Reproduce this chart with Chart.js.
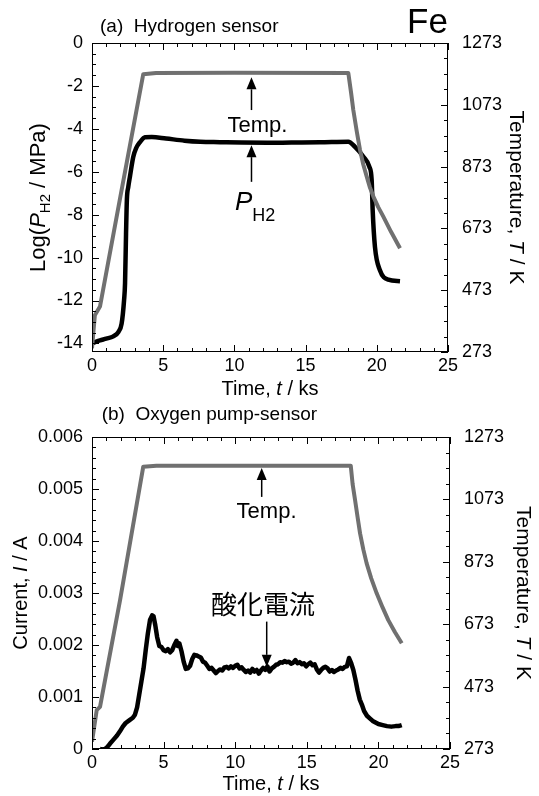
<!DOCTYPE html>
<html>
<head>
<meta charset="utf-8">
<script src="https://cdn.jsdelivr.net/npm/chart.js@4.4.0/dist/chart.umd.min.js"></script>
<style>
  html, body { margin: 0; padding: 0; background: #fff; }
  .box { position: absolute; left: 0; width: 539px; }
  #boxA { top: 0; height: 400px; }
  #boxB { top: 400px; height: 396px; }
</style>
</head>
<body>
<div class="box" id="boxA"><canvas id="chartA"></canvas></div>
<div class="box" id="boxB"><canvas id="chartB"></canvas></div>
<script>
// tick labels
const xTicks = [0, 5, 10, 15, 20, 25];
const logTicks = [-14, -12, -10, -8, -6, -4, -2, 0];
const currentTicks = [0, 0.001, 0.002, 0.003, 0.004, 0.005, 0.006];
const tempTicks = [273, 473, 673, 873, 1073, 1273];

// (a) hydrogen sensor: log P_H2
const h2Time = [0, 0.3, 0.56, 1.0, 1.5, 1.85, 2.08, 2.25, 2.32, 2.39, 2.45, 2.55, 2.67, 2.9, 3.1, 3.37, 3.72,
  4.2, 5.2, 6.5, 7.6, 9, 10.5, 12.3, 14, 16, 18.0, 18.47, 19.06, 19.48, 19.64, 19.71, 19.87, 20.22, 20.81, 21.63];
const h2LogP = [-14.0, -13.92, -13.86, -13.78, -13.67, -13.47, -13.08, -12.0, -11.2, -8.9, -7.3, -6.7, -6.2, -5.3, -4.9, -4.62, -4.39,
  -4.38, -4.45, -4.55, -4.6, -4.62, -4.64, -4.65, -4.64, -4.63, -4.6, -4.84, -5.3, -5.77, -6.39, -7.79, -9.5, -10.59, -11.03, -11.1];

// (a) temperature
const h2TempTime = [0, 0.2, 0.56, 1.97, 3.6, 4.5, 10, 18.0, 18.2, 18.35, 18.6, 18.82, 19.05, 19.29, 19.5, 19.76, 20.1, 20.46, 21.0, 21.63];
const h2Temp = [285, 392, 420, 770, 1172, 1176, 1177, 1176, 1110, 1056, 985, 927, 880, 841, 808, 776, 742, 711, 662, 609];

// (b) oxygen pump-sensor: current
const o2Time = [0.55, 0.7, 0.9, 1.05, 1.25, 1.5, 1.75, 1.95, 2.15, 2.35, 2.6, 2.85, 3.0, 3.15, 3.3, 3.45, 3.6, 3.75, 3.9,
  4.05, 4.2, 4.3, 4.42, 4.55, 4.7, 4.85, 5.0, 5.15, 5.3, 5.45, 5.6, 5.75, 5.9, 6.0, 6.1, 6.25, 6.4, 6.55, 6.7, 6.85,
  7.0, 7.15, 7.3, 7.45, 7.6, 7.75, 7.9, 8.05, 8.2, 8.35, 8.5, 8.65, 8.8, 8.95, 9.1, 9.25, 9.4, 9.55, 9.7, 9.85,
  10.0, 10.15, 10.3, 10.45, 10.6, 10.75, 10.9, 11.05, 11.2, 11.35, 11.5, 11.65, 11.8, 11.95, 12.1, 12.25, 12.4, 12.55, 12.7, 12.85,
  13.0, 13.15, 13.3, 13.45, 13.6, 13.75, 13.9, 14.05, 14.2, 14.35, 14.5, 14.65, 14.8, 14.95, 15.1, 15.25, 15.4, 15.55, 15.7, 15.85,
  16.0, 16.15, 16.3, 16.45, 16.6, 16.75, 16.9, 17.05, 17.2, 17.35, 17.5, 17.65, 17.8, 17.95, 18.1, 18.25, 18.4, 18.55, 18.7, 18.85,
  19.0, 19.2, 19.4, 19.6, 19.8, 20.0, 20.3, 20.6, 20.9, 21.2, 21.4, 21.63];
const o2Current = [0, -0.00001, 0, 0.00003, 0.0001, 0.00018, 0.00026, 0.00034, 0.00043, 0.0005, 0.00055, 0.0006, 0.00066, 0.0008, 0.00105, 0.0013, 0.00155, 0.0019, 0.00222,
  0.00248, 0.00257, 0.00255, 0.00238, 0.00215, 0.00198, 0.00196, 0.0019, 0.00188, 0.00192, 0.00186, 0.0019, 0.002, 0.00208, 0.00198, 0.00203, 0.00188, 0.00168, 0.00154, 0.00155, 0.0016,
  0.00173, 0.00181, 0.0018, 0.00178, 0.00176, 0.00168, 0.00166, 0.0016, 0.00154, 0.00156, 0.00151, 0.00146, 0.0015, 0.00153, 0.00151, 0.00157, 0.00158, 0.00155, 0.00159, 0.00156,
  0.0016, 0.00162, 0.00155, 0.00157, 0.00152, 0.00148, 0.00151, 0.00147, 0.00154, 0.00149, 0.00152, 0.00145, 0.00151, 0.00156, 0.00152, 0.00159, 0.00149, 0.00155, 0.00158, 0.00162,
  0.00163, 0.00167, 0.00166, 0.00169, 0.00167, 0.00168, 0.00164, 0.00166, 0.00171, 0.00165, 0.00167, 0.00163, 0.00165, 0.00159, 0.00163, 0.00166, 0.00161, 0.00163, 0.00153, 0.00147,
  0.00152, 0.00156, 0.00158, 0.00155, 0.00149, 0.00152, 0.00148, 0.00151, 0.00153, 0.00156, 0.00154, 0.00158, 0.00159, 0.00175, 0.00165, 0.00152, 0.00133, 0.00112, 0.00095, 0.00085,
  0.00073, 0.00064, 0.00059, 0.00054, 0.00051, 0.00048, 0.00046, 0.00044, 0.00043, 0.00044, 0.00044, 0.00046];

// (b) temperature
const o2TempTime = [0, 0.33, 0.56, 1.96, 3.58, 4.5, 10, 18.07, 18.2, 18.37, 18.55, 18.72, 18.95, 19.18, 19.5, 19.88, 20.3, 20.69, 21.15, 21.63];
const o2Temp = [296, 398, 408, 750, 1178, 1181, 1181, 1181, 1122, 1071, 1015, 964, 912, 868, 820, 772, 726, 686, 648, 612];

const FONT = '"Liberation Sans", Arial, sans-serif';
const GRAY = "#707070";

function pts(xs, ys) {
  return xs.map((x, i) => ({ x: x, y: ys[i] }));
}

function fixTicks(values) {
  return (axis) => {
    axis.ticks = values.map((v) => ({ value: v }));
  };
}

function writeRuns(ctx, parts, x, y, align) {
  let w = 0;
  parts.forEach((p) => {
    ctx.font = p.font;
    w += ctx.measureText(p.text).width;
  });
  let cx = align === "center" ? x - w / 2 : x;
  parts.forEach((p) => {
    ctx.font = p.font;
    ctx.fillText(p.text, cx, y + (p.dy || 0));
    cx += ctx.measureText(p.text).width;
  });
}

function arrow(ctx, px, yTail, yTip) {
  const dir = yTip < yTail ? 1 : -1;
  const hl = 12, hw = 5;
  ctx.save();
  ctx.strokeStyle = "#000";
  ctx.fillStyle = "#000";
  ctx.lineWidth = 1.5;
  ctx.beginPath();
  ctx.moveTo(px, yTail);
  ctx.lineTo(px, yTip + dir * hl);
  ctx.stroke();
  ctx.beginPath();
  ctx.moveTo(px, yTip);
  ctx.lineTo(px - hw, yTip + dir * hl);
  ctx.lineTo(px + hw, yTip + dir * hl);
  ctx.closePath();
  ctx.fill();
  ctx.restore();
}

// frame + inward tick marks on all four sides
function frameAndTicks(chart, left, right) {
  const ctx = chart.ctx, ca = chart.chartArea;
  const x = chart.scales.x, yl = chart.scales.y, yr = chart.scales.y1;
  ctx.save();
  ctx.strokeStyle = "#000";
  ctx.lineWidth = 1;
  ctx.strokeRect(Math.round(ca.left) + 0.5, Math.round(ca.top) + 0.5, Math.round(ca.right - ca.left) - 1, Math.round(ca.bottom - ca.top) - 1);
  ctx.beginPath();
  for (let i = 0; i <= 25; i++) {
    const px = Math.round(x.getPixelForValue(i)) + 0.5;
    const len = i % 5 === 0 ? 7 : 4;
    ctx.moveTo(px, ca.bottom);
    ctx.lineTo(px, ca.bottom - len);
    ctx.moveTo(px, ca.top);
    ctx.lineTo(px, ca.top + len);
  }
  for (let i = 0; i <= left.count; i++) {
    const py = Math.round(yl.getPixelForValue(left.from + i * left.step)) + 0.5;
    const len = i % left.major === 0 ? 7 : 4;
    ctx.moveTo(ca.left, py);
    ctx.lineTo(ca.left + len, py);
  }
  for (let i = 0; i <= right.count; i++) {
    const py = Math.round(yr.getPixelForValue(right.from + i * right.step)) + 0.5;
    const len = i % right.major === 0 ? 7 : 4;
    ctx.moveTo(ca.right, py);
    ctx.lineTo(ca.right - len, py);
  }
  ctx.stroke();
  ctx.restore();
}

function axisTitles(chart, xBase, leftX, leftRuns, rightX) {
  const ctx = chart.ctx, ca = chart.chartArea;
  const cy = (ca.top + ca.bottom) / 2;
  ctx.save();
  ctx.fillStyle = "#000";
  ctx.textBaseline = "alphabetic";
  writeRuns(ctx, [
    { text: "Time, ", font: "20px " + FONT },
    { text: "t", font: "italic 20px " + FONT },
    { text: " / ks", font: "20px " + FONT },
  ], (ca.left + ca.right) / 2, xBase, "center");

  ctx.save();
  ctx.translate(leftX, cy);
  ctx.rotate(-Math.PI / 2);
  writeRuns(ctx, leftRuns, 0, 0, "center");
  ctx.restore();

  ctx.save();
  ctx.translate(rightX, cy);
  ctx.rotate(Math.PI / 2);
  writeRuns(ctx, [
    { text: "Temperature, ", font: "21px " + FONT },
    { text: "T", font: "italic 21px " + FONT },
    { text: " / K", font: "21px " + FONT },
  ], 0, 0, "center");
  ctx.restore();
  ctx.restore();
}

const topDecor = {
  id: "topDecor",
  afterDraw(chart) {
    const ctx = chart.ctx;
    const x = chart.scales.x, yl = chart.scales.y, yr = chart.scales.y1;
    frameAndTicks(chart, { from: -14, step: 0.5, count: 28, major: 4 }, { from: 273, step: 50, count: 20, major: 4 });
    axisTitles(chart, 395, 45, [
      { text: "Log(", font: "22px " + FONT },
      { text: "P", font: "italic 22px " + FONT },
      { text: "H2", font: "15px " + FONT, dy: 5 },
      { text: " / MPa)", font: "22px " + FONT },
    ], 510);

    ctx.save();
    ctx.fillStyle = "#000";
    writeRuns(ctx, [{ text: "(a)  Hydrogen sensor", font: "19px " + FONT }], 100, 31.7, "left");
    writeRuns(ctx, [{ text: "Fe", font: "35px " + FONT }], 407, 33, "left");

    // Temp. label and arrow (right axis)
    arrow(ctx, x.getPixelForValue(11.2), yr.getPixelForValue(1056), yr.getPixelForValue(1162));
    writeRuns(ctx, [{ text: "Temp.", font: "22px " + FONT }], x.getPixelForValue(11.62), yr.getPixelForValue(986), "center");

    // P_H2 label and arrow (left axis)
    arrow(ctx, x.getPixelForValue(11.2), yl.getPixelForValue(-6.47), yl.getPixelForValue(-4.76));
    writeRuns(ctx, [
      { text: "P", font: "italic 26px " + FONT },
      { text: "H2", font: "18px " + FONT, dy: 10.7 },
    ], x.getPixelForValue(10.04), yl.getPixelForValue(-7.79), "left");
    ctx.restore();
  },
};

const bottomDecor = {
  id: "bottomDecor",
  afterDraw(chart) {
    const ctx = chart.ctx;
    const x = chart.scales.x, yl = chart.scales.y, yr = chart.scales.y1;
    frameAndTicks(chart, { from: 0, step: 0.0002, count: 30, major: 5 }, { from: 273, step: 50, count: 20, major: 4 });
    axisTitles(chart, 390, 27, [
      { text: "Current, ", font: "20px " + FONT },
      { text: "I", font: "italic 20px " + FONT },
      { text: " / A", font: "20px " + FONT },
    ], 517);

    ctx.save();
    ctx.fillStyle = "#000";
    writeRuns(ctx, [{ text: "(b)  Oxygen pump-sensor", font: "19px " + FONT }], 101.7, 20, "left");

    arrow(ctx, x.getPixelForValue(11.85), yr.getPixelForValue(1081), yr.getPixelForValue(1174));
    writeRuns(ctx, [{ text: "Temp.", font: "22px " + FONT }], x.getPixelForValue(12.19), yr.getPixelForValue(1013), "center");

    ctx.textBaseline = "middle";
    writeRuns(ctx, [{ text: "酸化電流", font: '26px "Noto Sans CJK JP", sans-serif' }], x.getPixelForValue(11.94), yl.getPixelForValue(0.00279), "center");
    ctx.textBaseline = "alphabetic";
    arrow(ctx, x.getPixelForValue(12.2), yl.getPixelForValue(0.00245), yl.getPixelForValue(0.00158));
    ctx.restore();
  },
};

function makeOptions(leftMin, leftMax, leftTicks, leftFmt, rightWidth, xHeight, topPad) {
  const tickFont = { family: FONT, size: 18 };
  return {
    responsive: true,
    maintainAspectRatio: false,
    animation: false,
    devicePixelRatio: 1,
    layout: { padding: { top: topPad, bottom: 0, left: 0, right: 0 } },
    plugins: { legend: { display: false }, tooltip: { enabled: false }, title: { display: false } },
    elements: { point: { radius: 0 } },
    scales: {
      x: {
        type: "linear",
        min: 0,
        max: 25,
        afterBuildTicks: fixTicks(xTicks),
        afterFit: (s) => { s.height = xHeight; },
        ticks: { font: tickFont, color: "#000", padding: 3, maxRotation: 0, autoSkip: false, callback: (v) => String(v) },
        grid: { display: false, drawTicks: false },
        border: { display: false },
      },
      y: {
        position: "left",
        min: leftMin,
        max: leftMax,
        afterBuildTicks: fixTicks(leftTicks),
        afterFit: (s) => { s.width = 92; },
        ticks: { font: tickFont, color: "#000", padding: 9, autoSkip: false, callback: leftFmt },
        grid: { display: false, drawTicks: false },
        border: { display: false },
      },
      y1: {
        position: "right",
        min: 273,
        max: 1273,
        afterBuildTicks: fixTicks(tempTicks),
        afterFit: (s) => { s.width = rightWidth; },
        ticks: { font: tickFont, color: "#000", padding: 14, autoSkip: false, callback: (v) => String(v) },
        grid: { display: false, drawTicks: false },
        border: { display: false },
      },
    },
  };
}

new Chart(document.getElementById("chartA"), {
  type: "line",
  data: {
    datasets: [
      {
        label: "Temp.",
        data: pts(h2TempTime, h2Temp),
        yAxisID: "y1",
        borderColor: GRAY,
        borderWidth: 4,
        borderJoinStyle: "round",
        tension: 0,
      },
      {
        label: "PH2",
        data: pts(h2Time, h2LogP),
        yAxisID: "y",
        borderColor: "#000",
        borderWidth: 4.5,
        cubicInterpolationMode: "monotone",
      },
    ],
  },
  options: makeOptions(-14.4, 0, logTicks, (v) => String(v), 91, 48, 43),
  plugins: [topDecor],
});

new Chart(document.getElementById("chartB"), {
  type: "line",
  data: {
    datasets: [
      {
        label: "Temp.",
        data: pts(o2TempTime, o2Temp),
        yAxisID: "y1",
        borderColor: GRAY,
        borderWidth: 4,
        borderJoinStyle: "round",
        tension: 0,
      },
      {
        label: "酸化電流",
        data: pts(o2Time, o2Current),
        yAxisID: "y",
        borderColor: "#000",
        borderWidth: 4.5,
        borderJoinStyle: "round",
        tension: 0,
      },
    ],
  },
  options: makeOptions(0, 0.006, currentTicks, (v) => (v === 0 ? "0" : v.toFixed(3)), 89, 47, 37),
  plugins: [bottomDecor],
});
</script>
</body>
</html>
